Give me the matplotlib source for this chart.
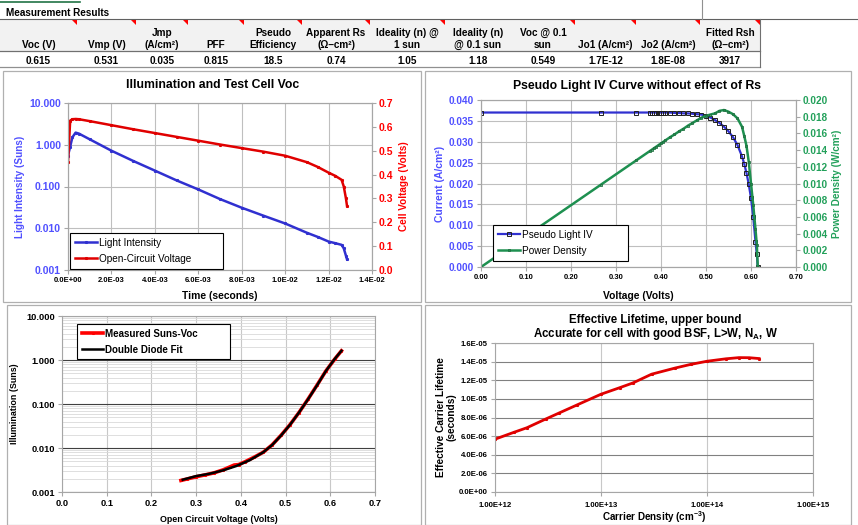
import numpy as np
import matplotlib
matplotlib.use('Agg')
import matplotlib.pyplot as plt
from matplotlib.patches import Rectangle, Polygon
from matplotlib.ticker import FixedLocator, FuncFormatter, NullLocator

plt.rcParams['font.family'] = ['Liberation Sans', 'DejaVu Sans']
plt.rcParams['mathtext.fontset'] = 'custom'
plt.rcParams['mathtext.rm'] = 'Liberation Sans'
plt.rcParams['mathtext.bf'] = 'Liberation Sans:bold'

W, H = 858, 525

# summary table
col_headers = ['Voc (V)', 'Vmp (V)', 'Jmp\n(A/cm²)', 'PFF', 'Pseudo\nEfficiency',
               'Apparent Rs\n(Ω–cm²)', 'Ideality (n) @\n1 sun', 'Ideality (n)\n@ 0.1 sun',
               'Voc @ 0.1\nsun', 'Jo1 (A/cm²)', 'Jo2 (A/cm²)', 'Fitted Rsh\n(Ω–cm²)']
col_values = ['0.615', '0.531', '0.035', '0.815', '18.5', '0.74', '1.05', '1.18',
              '0.549', '1.7E-12', '1.8E-08', '3917']
col_edges = [0, 77, 136, 188, 244, 302, 370, 445, 511, 575, 636, 700, 760]

# flash decay: light intensity and open-circuit voltage vs time
time_s = [0.0, 0.0001, 0.0002, 0.00035, 0.0005, 0.001, 0.002, 0.003, 0.004, 0.005,
          0.006, 0.007, 0.008, 0.009, 0.010, 0.011, 0.0115, 0.012, 0.0123, 0.0126,
          0.0127, 0.0128, 0.01285]
intensity_suns = [0.55, 0.9, 1.5, 1.95, 1.85, 1.35, 0.72, 0.41, 0.24, 0.14,
                  0.085, 0.05, 0.031, 0.02, 0.013, 0.0078, 0.0062, 0.0048, 0.0044, 0.0040,
                  0.0033, 0.0022, 0.0018]
voc_volts = [0.452, 0.626, 0.632, 0.633, 0.632, 0.624, 0.607, 0.590, 0.574, 0.558,
             0.542, 0.526, 0.511, 0.496, 0.479, 0.452, 0.432, 0.408, 0.395, 0.378,
             0.350, 0.300, 0.268]

# pseudo light IV
iv_volts = [0.000, 0.267, 0.345, 0.375, 0.380, 0.385, 0.390, 0.395, 0.400, 0.405,
            0.410, 0.420, 0.430, 0.440, 0.450, 0.460, 0.470, 0.480, 0.490, 0.500,
            0.510, 0.520, 0.530, 0.540, 0.550, 0.560, 0.570, 0.580, 0.585, 0.590,
            0.595, 0.600, 0.605, 0.610, 0.613, 0.615]
iv_current = [0.0370, 0.0370, 0.0370, 0.0370, 0.0370, 0.0370, 0.0370, 0.0370, 0.0370, 0.0370,
              0.0370, 0.0370, 0.0369, 0.0369, 0.0368, 0.0368, 0.0367, 0.0366, 0.0365, 0.0362,
              0.0358, 0.0352, 0.0345, 0.0336, 0.0325, 0.0311, 0.0292, 0.0265, 0.0247, 0.0225,
              0.0198, 0.0165, 0.0120, 0.0060, 0.0030, 0.0000]
iv_power = [0.0, 0.00988, 0.01277, 0.01388, 0.01406, 0.01425, 0.01443, 0.01462, 0.01480, 0.01499,
            0.01517, 0.01554, 0.01587, 0.01624, 0.01656, 0.01693, 0.01725, 0.01757, 0.01789, 0.01810,
            0.01826, 0.01840, 0.01870, 0.01880, 0.01860, 0.01830, 0.01780, 0.01680, 0.01570, 0.01450,
            0.01260, 0.01000, 0.00740, 0.00450, 0.00260, 0.0]

# suns-Voc
sv_volts = [0.266, 0.28, 0.30, 0.32, 0.34, 0.36, 0.375, 0.385, 0.395, 0.41, 0.43,
            0.45, 0.47, 0.49, 0.51, 0.53, 0.55, 0.57, 0.59, 0.61, 0.625]
sv_suns = [0.00183, 0.00198, 0.00222, 0.00245, 0.00272, 0.00318, 0.0037, 0.0041, 0.0042,
           0.0049, 0.0062, 0.0080, 0.0118, 0.0195, 0.034, 0.064, 0.128, 0.265, 0.56, 1.05, 1.62]
fit_volts = [0.27, 0.30, 0.33, 0.36, 0.39, 0.42, 0.45, 0.47, 0.49, 0.51, 0.53, 0.55,
             0.57, 0.59, 0.61, 0.625]
fit_suns = [0.0019, 0.0023, 0.0026, 0.0031, 0.0039, 0.0053, 0.0080, 0.0117, 0.0193, 0.0338,
            0.064, 0.127, 0.262, 0.56, 1.06, 1.62]

# effective lifetime
carrier_density = [1.0e12, 1.5e12, 2e12, 3e12, 4e12, 6e12, 1e13, 1.5e13, 2e13, 3e13,
                   5e13, 7e13, 1e14, 1.5e14, 2e14, 2.5e14, 3.1e14]
lifetime_s = [5.67e-6, 6.40e-6, 6.90e-6, 7.83e-6, 8.47e-6, 9.37e-6, 1.05e-5, 1.12e-5, 1.171e-5,
              1.265e-5, 1.331e-5, 1.370e-5, 1.404e-5, 1.430e-5, 1.443e-5, 1.442e-5, 1.433e-5]

BLUE_TXT = '#5050FF'
BLUE = '#3030D0'
RED = '#E00000'
GREEN = '#1E9050'
GREEN_TXT = '#22A05A'
EDGE = '#A6A6A6'

fig = plt.figure(figsize=(W / 100, H / 100), dpi=100)
fig.patch.set_facecolor('white')

bg = fig.add_axes([0, 0, 1, 1])
bg.set_xlim(0, W)
bg.set_ylim(H, 0)
bg.axis('off')
bg.set_zorder(-5)


def px_axes(x0, y0, x1, y1):
    return fig.add_axes([x0 / W, 1 - y1 / H, (x1 - x0) / W, (y1 - y0) / H])


def style(ax):
    for s in ax.spines.values():
        s.set_color(EDGE)
        s.set_linewidth(0.8)
    ax.tick_params(length=3, width=0.8, color=EDGE, pad=2)
    ax.set_axisbelow(True)


def fmt(pattern):
    return FuncFormatter(lambda v, p: pattern.format(v))


# ---- table ----
bg.plot([0, 80], [2, 2], color='#217346', lw=1.2)
bg.plot([0, W], [19, 19], color='#606060', lw=0.8)
bg.plot([702, 702], [0, 19], color='#909090', lw=0.8)
bg.text(6, 16, 'Measurement Results', fontsize=7.2, fontweight='bold', va='baseline')
bg.add_patch(Rectangle((0, 19), col_edges[-1], 32, facecolor='#F2F2F2', edgecolor='none'))
bg.plot([0, col_edges[-1]], [51, 51], color='#707070', lw=0.9)
bg.plot([0, col_edges[-1]], [67, 67], color='#909090', lw=0.9)
bg.plot([col_edges[-1], col_edges[-1]], [19, 67], color='#707070', lw=0.8)
for i, (hd, val) in enumerate(zip(col_headers, col_values)):
    cx = (col_edges[i] + col_edges[i + 1]) / 2
    bg.text(cx, 48, hd, ha='center', va='baseline', fontsize=7.2, fontweight='bold',
            linespacing=1.2)
    bg.text(cx, 64.5, val, ha='center', va='baseline', fontsize=7.2, fontweight='bold')
    if i != 7:
        xr = col_edges[i + 1]
        bg.add_patch(Polygon([[xr - 5, 19.5], [xr, 19.5], [xr, 24.5]], closed=True,
                             facecolor='red', edgecolor='none'))

# ---- panel frames ----
for (x0, y0, x1, y1) in [(3, 71, 421, 302), (425, 71, 851, 302),
                         (7, 305, 421, 524.5), (425, 305, 851, 524.5)]:
    bg.add_patch(Rectangle((x0, y0), x1 - x0, y1 - y0, facecolor='white',
                           edgecolor='#B0B0B0', lw=0.9))

# ---- illumination and Voc ----
ax1 = px_axes(68, 103, 372, 270)
style(ax1)
ax1.set_yscale('log')
ax1.set_ylim(0.001, 10)
ax1.set_xlim(0, 0.014)
ax1.set_xticks(np.arange(0, 0.0141, 0.002))
ax1.xaxis.set_major_formatter(fmt('{:.1E}'))
ax1.yaxis.set_major_locator(FixedLocator([0.001, 0.01, 0.1, 1, 10]))
ax1.yaxis.set_minor_locator(NullLocator())
ax1.yaxis.set_major_formatter(fmt('{:.3f}'))
ax1.grid(True, color='#BFBFBF', lw=0.8)
ax1.tick_params(axis='x', labelsize=5.5)
ax1.tick_params(axis='y', labelsize=7.5, labelcolor=BLUE_TXT)
for lab in ax1.get_xticklabels() + ax1.get_yticklabels():
    lab.set_fontweight('bold')
ax1.set_xlabel('Time (seconds)', fontsize=7.4, fontweight='bold', labelpad=5)
ax1.set_ylabel('Light Intensity (Suns)', fontsize=7.2, fontweight='bold', color=BLUE_TXT, labelpad=3)
ax1r = ax1.twinx()
style(ax1r)
ax1r.set_ylim(0, 0.7)
ax1r.set_yticks(np.arange(0, 0.71, 0.1))
ax1r.yaxis.set_major_formatter(fmt('{:.1f}'))
ax1r.tick_params(axis='y', labelsize=7.5, labelcolor='#FF0000')
for lab in ax1r.get_yticklabels():
    lab.set_fontweight('bold')
ax1r.set_ylabel('Cell Voltage (Volts)', fontsize=7.2, fontweight='bold', color='#FF0000', labelpad=4)
l1, = ax1.plot(time_s, intensity_suns, color=BLUE, lw=1.8, marker='s', ms=1.2,
               mfc='none', mec=BLUE, label='Light Intensity')
l2, = ax1r.plot(time_s, voc_volts, color=RED, lw=1.8, marker='s', ms=1.2,
                mfc='none', mec=RED, label='Open-Circuit Voltage')
leg = ax1r.legend(handles=[l1, l2], loc='lower left', bbox_to_anchor=(0.007, 0.006, 0.503, 0.216),
                  mode='expand', borderaxespad=0, fontsize=7.2, fancybox=False,
                  edgecolor='black', framealpha=1, handlelength=2.2, handletextpad=0.2,
                  borderpad=0.5, labelspacing=0.6)
leg.get_frame().set_linewidth(0.8)
bg.text(213, 87.5, 'Illumination and Test Cell Voc', ha='center', va='baseline',
        fontsize=8.8, fontweight='bold')

# ---- pseudo light IV ----
ax2 = px_axes(481, 100, 796, 267)
style(ax2)
ax2.set_xlim(0, 0.7)
ax2.set_ylim(0, 0.04)
ax2.set_xticks(np.arange(0, 0.71, 0.1))
ax2.set_yticks(np.arange(0, 0.0401, 0.005))
ax2.xaxis.set_major_formatter(fmt('{:.2f}'))
ax2.yaxis.set_major_formatter(fmt('{:.3f}'))
ax2.grid(True, color='#BFBFBF', lw=0.8)
ax2.tick_params(axis='x', labelsize=5.5)
ax2.tick_params(axis='y', labelsize=7.2, labelcolor=BLUE_TXT)
for lab in ax2.get_xticklabels() + ax2.get_yticklabels():
    lab.set_fontweight('bold')
ax2.set_xlabel('Voltage (Volts)', fontsize=7.4, fontweight='bold', labelpad=7)
ax2.set_ylabel('Current (A/cm²)', fontsize=7.5, fontweight='bold', color=BLUE_TXT, labelpad=3)
ax2r = ax2.twinx()
style(ax2r)
ax2r.set_ylim(0, 0.02)
ax2r.set_yticks(np.arange(0, 0.0201, 0.002))
ax2r.yaxis.set_major_formatter(fmt('{:.3f}'))
ax2r.tick_params(axis='y', labelsize=7.2, labelcolor=GREEN_TXT)
for lab in ax2r.get_yticklabels():
    lab.set_fontweight('bold')
ax2r.set_ylabel('Power Density (W/cm²)', fontsize=7.2, fontweight='bold', color=GREEN_TXT, labelpad=3)
l3, = ax2.plot(iv_volts, iv_current, color=BLUE, lw=1.6, marker='s', ms=2.2,
               mfc='none', mec='#202020', mew=0.7, label='Pseudo Light IV')
l4, = ax2r.plot(iv_volts, iv_power, color=GREEN, lw=1.8, marker='s', ms=2.0,
                mfc='none', mec='#207040', mew=0.6, label='Power Density')
leg = ax2r.legend(handles=[l3, l4], loc='lower left', bbox_to_anchor=(0.038, 0.036, 0.43, 0.216),
                  mode='expand', borderaxespad=0, fontsize=7.2, fancybox=False,
                  edgecolor='black', framealpha=1, handlelength=2.2, handletextpad=0.2,
                  borderpad=0.5, labelspacing=0.6)
leg.get_frame().set_linewidth(0.8)
bg.text(637, 89, 'Pseudo Light IV Curve without effect of Rs', ha='center', va='baseline',
        fontsize=8.8, fontweight='bold')

# ---- suns-Voc ----
ax3 = px_axes(62, 316, 375, 492)
style(ax3)
ax3.set_yscale('log')
ax3.set_ylim(0.001, 10)
ax3.set_xlim(0, 0.7)
ax3.set_xticks(np.arange(0, 0.71, 0.1))
ax3.xaxis.set_major_formatter(fmt('{:.1f}'))
ax3.yaxis.set_major_locator(FixedLocator([0.001, 0.01, 0.1, 1, 10]))
ax3.yaxis.set_minor_locator(FixedLocator([m * 10.0 ** e for e in range(-3, 1) for m in range(2, 10)]))
ax3.yaxis.set_major_formatter(fmt('{:.3f}'))
ax3.tick_params(axis='y', which='minor', length=0)
ax3.grid(True, axis='y', which='minor', color='#D9D9D9', lw=0.6)
ax3.grid(True, axis='y', which='major', color='#404040', lw=0.8)
ax3.grid(True, axis='x', which='major', color='#C8C8C8', lw=0.8)
ax3.tick_params(axis='both', labelsize=6.7)
for lab in ax3.get_xticklabels() + ax3.get_yticklabels():
    lab.set_fontweight('bold')
ax3.set_xlabel('Open Circuit Voltage (Volts)', fontsize=6.4, fontweight='bold', labelpad=5)
ax3.set_ylabel('Illumination (Suns)', fontsize=6.4, fontweight='bold', labelpad=5)
l5, = ax3.plot(sv_volts, sv_suns, color='#FF0000', lw=2.6, marker='s', ms=1.2,
               mfc='none', mec='#FF0000', label='Measured Suns-Voc')
l6, = ax3.plot(fit_volts, fit_suns, color='black', lw=1.8, label='Double Diode Fit')
leg = ax3.legend(handles=[l5, l6], loc='upper left', bbox_to_anchor=(0.048, 0.955, 0.49, 0.0),
                 mode='expand', borderaxespad=0,
                 prop={'weight': 'bold', 'size': 7}, fancybox=False,
                 edgecolor='black', framealpha=1, handlelength=2.2, handletextpad=0.2,
                 borderpad=0.5, labelspacing=0.6)
leg.get_frame().set_linewidth(0.8)

# ---- effective lifetime ----
ax4 = px_axes(495, 343, 813, 492)
style(ax4)
ax4.set_xscale('log')
ax4.set_xlim(1e12, 1e15)
ax4.xaxis.set_major_locator(FixedLocator([1e12, 1e13, 1e14, 1e15]))
ax4.xaxis.set_minor_locator(NullLocator())
ax4.xaxis.set_major_formatter(fmt('{:.2E}'))
ax4.set_ylim(0, 1.6e-5)
ax4.set_yticks(np.arange(0, 1.61e-5, 2e-6))
ax4.yaxis.set_major_formatter(fmt('{:.1E}'))
ax4.grid(True, axis='y', color='#808080', lw=0.8)
ax4.grid(True, axis='x', color='#C8C8C8', lw=0.8)
ax4.tick_params(axis='both', labelsize=5.6)
ax4.tick_params(axis='x', pad=4)
for lab in ax4.get_xticklabels() + ax4.get_yticklabels():
    lab.set_fontweight('bold')
ax4.set_xlabel(r'Carrier Density (cm$^{\mathregular{-3}}$)', fontsize=7.1, fontweight='bold', labelpad=0.5)
ax4.set_ylabel('Effective Carrier Lifetime\n(seconds)', fontsize=7.3, fontweight='bold',
               labelpad=2, linespacing=1.0)
ax4.plot(carrier_density, lifetime_s, color=RED, lw=2.0, marker='s', ms=1.2,
         mfc='none', mec=RED)
bg.text(655, 322.5, 'Effective Lifetime, upper bound', ha='center', va='baseline',
        fontsize=8.3, fontweight='bold')
bg.text(655, 337, r'Accurate for cell with good BSF, L>W, N$_{\mathbf{A}}$, W', ha='center',
        va='baseline', fontsize=8.3, fontweight='bold')

fig.savefig('out.png', dpi=100, facecolor='white')
